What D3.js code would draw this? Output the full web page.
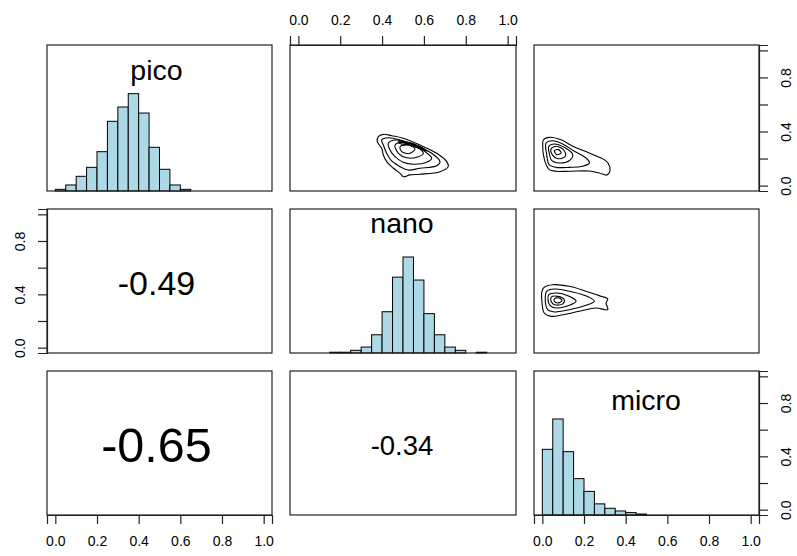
<!DOCTYPE html>
<html>
<head>
<meta charset="utf-8">
<script src="https://cdn.jsdelivr.net/npm/d3@7"></script>
<style>
  html, body { margin: 0; padding: 0; background: #fff; }
  svg { display: block; }
  text { font-family: "Liberation Sans", Arial, Helvetica, sans-serif; fill: #000; }
</style>
</head>
<body>
<svg id="chart" width="797" height="556"></svg>
<script>
// ---------------- DATA ----------------
const variables = ["pico", "nano", "micro"];

// histogram breaks and bar heights (counts scaled to max = 1)
const picoBreaks  = [0.00,0.05,0.10,0.15,0.20,0.25,0.30,0.35,0.40,0.45,0.50,0.55,0.60,0.65];
const picoHeights = [0.017,0.062,0.151,0.243,0.404,0.716,0.863,1.000,0.801,0.449,0.223,0.062,0.017];

const nanoBreaks  = [0.15,0.20,0.25,0.30,0.35,0.40,0.45,0.50,0.55,0.60,0.65,0.70,0.75,0.80,0.85,0.90];
const nanoHeights = [0.008,0.008,0.028,0.062,0.190,0.430,0.790,1.000,0.760,0.410,0.190,0.062,0.028,0.000,0.008];

const microBreaks  = [0.00,0.05,0.10,0.15,0.20,0.25,0.30,0.35,0.40,0.45,0.50];
const microHeights = [0.684,1.000,0.660,0.379,0.246,0.116,0.070,0.042,0.025,0.010];

// correlations shown in the lower panels
const correlationLabels = ["-0.49", "-0.65", "-0.34"];   // (nano,pico), (micro,pico), (micro,nano)

// density contours: [x, y] in data units
const contoursNanoPico = [
  [[0.382,0.362],[0.406,0.379],[0.446,0.369],[0.501,0.350],[0.581,0.300],[0.661,0.239],[0.709,0.177],[0.716,0.140],[0.677,0.103],[0.581,0.084],[0.533,0.079],[0.501,0.066],[0.486,0.091],[0.454,0.128],[0.422,0.177],[0.406,0.226],[0.398,0.276],[0.377,0.325]],
  [[0.398,0.337],[0.430,0.354],[0.486,0.337],[0.565,0.295],[0.637,0.239],[0.677,0.177],[0.661,0.147],[0.581,0.128],[0.525,0.115],[0.486,0.140],[0.446,0.182],[0.422,0.239],[0.406,0.300]],
  [[0.430,0.313],[0.462,0.337],[0.533,0.313],[0.605,0.251],[0.637,0.202],[0.613,0.172],[0.549,0.158],[0.501,0.172],[0.462,0.214],[0.438,0.263]],
  [[0.462,0.300],[0.501,0.320],[0.565,0.288],[0.597,0.239],[0.565,0.209],[0.518,0.206],[0.478,0.239]],
  [[0.486,0.288],[0.525,0.300],[0.557,0.271],[0.533,0.239],[0.494,0.251]],
  [[0.478,0.325],[0.530,0.318],[0.590,0.280],[0.615,0.255],[0.590,0.268],[0.530,0.300],[0.485,0.312]],
  [[0.500,0.318],[0.545,0.310],[0.600,0.272],[0.575,0.278],[0.540,0.298]]
];
const contoursMicroPico = [
  [[0.005,0.339],[0.033,0.357],[0.090,0.339],[0.146,0.291],[0.225,0.241],[0.297,0.192],[0.315,0.167],[0.325,0.115],[0.310,0.078],[0.273,0.093],[0.225,0.108],[0.129,0.106],[0.066,0.106],[0.033,0.118],[0.018,0.155],[0.005,0.229],[0.002,0.291]],
  [[0.018,0.315],[0.050,0.332],[0.098,0.308],[0.154,0.254],[0.210,0.204],[0.226,0.167],[0.194,0.143],[0.129,0.135],[0.066,0.135],[0.033,0.155],[0.021,0.229]],
  [[0.031,0.291],[0.058,0.308],[0.105,0.283],[0.146,0.229],[0.129,0.184],[0.081,0.167],[0.046,0.184],[0.033,0.241]],
  [[0.042,0.273],[0.069,0.291],[0.105,0.258],[0.110,0.217],[0.074,0.199],[0.050,0.224]],
  [[0.058,0.258],[0.078,0.266],[0.090,0.241],[0.069,0.229]]
];
const contoursMicroNano = [
  [[0.009,0.453],[0.050,0.472],[0.129,0.460],[0.210,0.423],[0.282,0.385],[0.314,0.367],[0.306,0.335],[0.314,0.285],[0.258,0.298],[0.177,0.273],[0.098,0.247],[0.042,0.235],[0.009,0.260],[-0.002,0.348],[-0.002,0.423]],
  [[0.021,0.423],[0.058,0.440],[0.146,0.418],[0.225,0.378],[0.250,0.348],[0.210,0.318],[0.129,0.285],[0.058,0.268],[0.026,0.285],[0.014,0.360]],
  [[0.031,0.397],[0.066,0.410],[0.129,0.385],[0.162,0.348],[0.129,0.318],[0.066,0.298],[0.037,0.318],[0.027,0.360]],
  [[0.042,0.378],[0.074,0.385],[0.105,0.360],[0.098,0.328],[0.058,0.322],[0.042,0.348]],
  [[0.058,0.367],[0.081,0.373],[0.094,0.352],[0.074,0.335],[0.058,0.348]]
];

const tickValues = [0, 0.2, 0.4, 0.6, 0.8, 1.0];
const xTickLabels = ["0.0", "0.2", "0.4", "0.6", "0.8", "1.0"];
const yTickLabels = ["0.0", "", "0.4", "", "0.8", ""];

// ---------------- LAYOUT ----------------
const colEdges = [[47, 272], [290, 516], [534, 759]];
const rowEdges = [[45, 191], [209, 353], [371, 515]];
const tickLen = 9;
const tickFont = 14;
const labelFont = 28.5;
const labelTopOffset = [35, 23.5, 38.5];
const corFontSize = [34, 48.5, 27.5];
const colTextShift = [-3, -1, -0.5];

const svg = d3.select("#chart");
svg.append("rect").attr("width", 797).attr("height", 556).attr("fill", "#fff");

const xScales = colEdges.map(([l, r]) => d3.scaleLinear().domain([-0.04, 1.04]).range([l, r]));
const yScales = rowEdges.map(([t, b]) => d3.scaleLinear().domain([-0.04, 1.04]).range([b, t]));
const hScales = rowEdges.map(([t, b]) => d3.scaleLinear().domain([0, 1.5]).range([b, t]));

const hists = [
  {breaks: picoBreaks, heights: picoHeights},
  {breaks: nanoBreaks, heights: nanoHeights},
  {breaks: microBreaks, heights: microHeights}
];

// diagonal: histograms + names
hists.forEach((h, i) => {
  const g = svg.append("g");
  const x = xScales[i], y = hScales[i];
  const bars = h.heights.map((v, k) => ({x0: h.breaks[k], x1: h.breaks[k + 1], v}));
  g.selectAll("rect").data(bars).enter().append("rect")
    .attr("x", d => x(d.x0))
    .attr("width", d => x(d.x1) - x(d.x0))
    .attr("y", d => y(d.v))
    .attr("height", d => y(0) - y(d.v))
    .attr("fill", "#add8e6")
    .attr("stroke", "#000")
    .attr("stroke-width", 1);
  const [l, r] = colEdges[i];
  g.append("text")
    .attr("x", (l + r) / 2 + colTextShift[i])
    .attr("y", rowEdges[i][0] + labelTopOffset[i])
    .attr("text-anchor", "middle")
    .attr("font-size", labelFont)
    .text(variables[i]);
});

// upper panels: contours
const line = d3.line().curve(d3.curveCatmullRomClosed.alpha(0.5));
const upper = [
  {row: 0, col: 1, contours: contoursNanoPico},
  {row: 0, col: 2, contours: contoursMicroPico},
  {row: 1, col: 2, contours: contoursMicroNano}
];
upper.forEach(p => {
  const x = xScales[p.col], y = yScales[p.row];
  svg.append("g").selectAll("path").data(p.contours).enter().append("path")
    .attr("d", d => line.x(q => x(q[0])).y(q => y(q[1]))(d))
    .attr("fill", "none")
    .attr("stroke", "#000")
    .attr("stroke-width", 1.1);
});

// lower panels: correlations
const lower = [
  {row: 1, col: 0, k: 0},
  {row: 2, col: 0, k: 1},
  {row: 2, col: 1, k: 2}
];
lower.forEach(p => {
  const [l, r] = colEdges[p.col];
  const [t, b] = rowEdges[p.row];
  const fs = corFontSize[p.k];
  svg.append("text")
    .attr("x", (l + r) / 2 + colTextShift[p.col])
    .attr("y", (t + b) / 2 + fs * 0.36 + 2)
    .attr("text-anchor", "middle")
    .attr("font-size", fs)
    .text(correlationLabels[p.k]);
});

// panel boxes
for (let i = 0; i < 3; i++) {
  for (let j = 0; j < 3; j++) {
    const [l, r] = colEdges[j];
    const [t, b] = rowEdges[i];
    svg.append("rect")
      .attr("x", l).attr("y", t).attr("width", r - l).attr("height", b - t)
      .attr("fill", "none").attr("stroke", "#222").attr("stroke-width", 1.2);
  }
}

// axes
function styleAxis(g) {
  g.selectAll("path.domain").attr("stroke", "#222").attr("stroke-width", 1.2);
  g.selectAll(".tick line").attr("stroke", "#222").attr("stroke-width", 1.2);
  g.selectAll(".tick text").attr("font-family", "Liberation Sans, Arial, sans-serif")
    .attr("font-size", tickFont).attr("fill", "#111");
}
function fmtX(d) { return xTickLabels[tickValues.indexOf(d)]; }
function fmtY(d) { return yTickLabels[tickValues.indexOf(d)]; }

// top axis on column 2
{
  const g = svg.append("g").attr("transform", `translate(0,${rowEdges[0][0]})`)
    .call(d3.axisTop(xScales[1]).tickValues(tickValues).tickFormat(fmtX).tickSizeOuter(0).tickSize(tickLen).tickPadding(11));
  styleAxis(g);
}
// bottom axes on columns 1 and 3
[0, 2].forEach(c => {
  const g = svg.append("g").attr("transform", `translate(0,${rowEdges[2][1]})`)
    .call(d3.axisBottom(xScales[c]).tickValues(tickValues).tickFormat(fmtX).tickSizeOuter(0).tickSize(tickLen).tickPadding(12));
  styleAxis(g);
});
// right axes on rows 1 and 3
[0, 2].forEach(rw => {
  const g = svg.append("g").attr("transform", `translate(${colEdges[2][1]},0)`)
    .call(d3.axisRight(yScales[rw]).tickValues(tickValues).tickFormat(fmtY).tickSizeOuter(0).tickSize(tickLen));
  styleAxis(g);
  g.selectAll(".tick text")
    .attr("x", null).attr("dy", null)
    .attr("text-anchor", "middle")
    .attr("transform", "translate(31.5,0) rotate(-90)");
});
// left axis on row 2
{
  const g = svg.append("g").attr("transform", `translate(${colEdges[0][0]},0)`)
    .call(d3.axisLeft(yScales[1]).tickValues(tickValues).tickFormat(fmtY).tickSizeOuter(0).tickSize(tickLen));
  styleAxis(g);
  g.selectAll(".tick text")
    .attr("x", null).attr("dy", null)
    .attr("text-anchor", "middle")
    .attr("transform", "translate(-22,0) rotate(-90)");
}
</script>
</body>
</html>
